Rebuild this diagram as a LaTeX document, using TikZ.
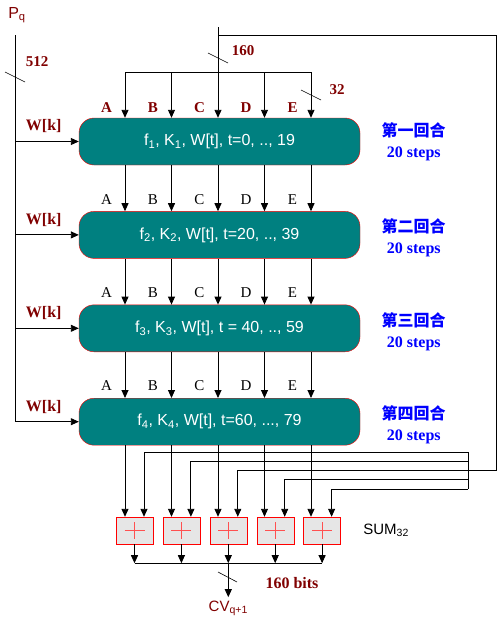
\documentclass[tikz,border=0pt]{standalone}
\usepackage{fontspec}
\setmainfont{Liberation Serif}
\setsansfont{Liberation Sans}
\newfontfamily\cjk{Noto Sans CJK SC}
\usepackage{xcolor}
\usetikzlibrary{shapes,arrows.meta,positioning}

\definecolor{darkred}{RGB}{128,0,0}
\definecolor{boxteal}{RGB}{0,128,128}
\definecolor{addgray}{RGB}{230,230,230}
\definecolor{plusred}{RGB}{255,80,80}

\tikzset{
    roundbox/.style={
        draw=red,
        fill=boxteal,
        rounded corners=15pt,
        minimum width=281pt,
        minimum height=47pt,
        inner sep=0pt,
        text=white,
        font=\sffamily\fontsize{16}{18}\selectfont
    },
    adder/.style={
        draw=red,
        fill=addgray,
        minimum width=37pt,
        minimum height=27pt,
        inner sep=0pt,
        path picture={
            \draw[plusred, line width=1.1pt]
                ([xshift=-10pt]path picture bounding box.center) -- ([xshift=10pt]path picture bounding box.center)
                ([yshift=-8.5pt]path picture bounding box.center) -- ([yshift=8.5pt]path picture bounding box.center);
        }
    },
    wire/.style={line width=0.9pt},
    arr/.style={wire, -{Triangle[length=8pt,width=7pt]}},
    cutmark/.style={line width=0.6pt},
    redlab/.style={text=darkred, font=\bfseries\fontsize{15}{17}\selectfont},
    wlab/.style={text=darkred, font=\bfseries\fontsize{16}{18}\selectfont},
    blklab/.style={font=\fontsize{15}{17}\selectfont},
    roundlab/.style={text=blue, align=center, font=\bfseries\fontsize{16}{21}\selectfont},
    sanslab/.style={font=\sffamily\fontsize{15}{17}\selectfont}
}

\begin{document}
\begin{tikzpicture}[x=1pt, y=-1pt]
    \useasboundingbox (0,0) rectangle (499,632);

    \node[roundbox] (r1) at (219.5,141.5) {f\textsubscript{1}, K\textsubscript{1}, W[t], t=0, .., 19};
    \node[roundbox, below=46pt of r1] (r2) {f\textsubscript{2}, K\textsubscript{2}, W[t], t=20, .., 39};
    \node[roundbox, below=46pt of r2] (r3) {f\textsubscript{3}, K\textsubscript{3}, W[t], t = 40, .., 59};
    \node[roundbox, below=46pt of r3] (r4) {f\textsubscript{4}, K\textsubscript{4}, W[t], t=60, ..., 79};

    \node[roundlab, right=18pt of r1] (lab1) {{\cjk 第一回合}\\20 steps};
    \node[roundlab, right=18pt of r2, yshift=-3pt] (lab2) {{\cjk 第二回合}\\20 steps};
    \node[roundlab, right=18pt of r3, yshift=-3pt] (lab3) {{\cjk 第三回合}\\20 steps};
    \node[roundlab, right=18pt of r4, yshift=-3pt] (lab4) {{\cjk 第四回合}\\20 steps};

    \foreach \i in {1,...,5}
        \coordinate (c\i) at ({125+46.5*(\i-1)},0);

    % top input
    \coordinate (ftop) at (218,27);
    \coordinate (spread) at (218,72);
    \coordinate (fright) at (496,35);
    \draw[wire] (ftop) -- (spread);
    \draw[wire] (c1 |- spread) -- (c5 |- spread);
    \foreach \l [count=\i] in {A,B,C,D,E}
        \draw[arr] (c\i |- spread) -- (c\i |- r1.north) node[redlab, pos=0.78, xshift=-18.5pt] {\l};
    \draw[cutmark] (208,53) -- (228,63);
    \node[redlab] (n160) at (243,51) {160};
    \draw[cutmark] (301,90) -- (321,100);
    \node[redlab] (n32) at (337,90) {32};

    % between rounds
    \foreach \l [count=\i] in {A,B,C,D,E} {
        \draw[arr] (c\i |- r1.south) -- (c\i |- r2.north) node[blklab, pos=0.74, xshift=-18.5pt] {\l};
        \draw[arr] (c\i |- r2.south) -- (c\i |- r3.north) node[blklab, pos=0.74, xshift=-18.5pt] {\l};
        \draw[arr] (c\i |- r3.south) -- (c\i |- r4.north) node[blklab, pos=0.74, xshift=-18.5pt] {\l};
    }

    % message words
    \node[text=darkred, font=\sffamily\fontsize{16}{18}\selectfont] (pq) at (17,15) {P\textsubscript{q}};
    \coordinate (wtop) at (15,35);
    \draw[wire] (wtop) -- (wtop |- r4.west);
    \draw[cutmark] (5,72) -- (25,82);
    \node[redlab] (n512) at (37,62) {512};
    \foreach \r in {1,...,4}
        \draw[arr] (wtop |- r\r.west) -- (r\r.west) node[wlab, pos=0.45, yshift=15pt] {W[k]};

    % adders
    \node[adder] (s1) at (134.5,530.5) {};
    \node[adder, right=9.5pt of s1] (s2) {};
    \node[adder, right=9.5pt of s2] (s3) {};
    \node[adder, right=9.5pt of s3] (s4) {};
    \node[adder, right=9.5pt of s4] (s5) {};
    \node[sanslab, right=19pt of s5] (sum) {SUM\textsubscript{32}};

    \foreach \i in {1,...,5} {
        \coordinate (b\i) at (468,{452+9.25*(\i-1)});
        \draw[arr] (c\i |- r4.south) -- (c\i |- s\i.north);
        \draw[arr] (b\i) -| ([xshift=9.5pt]s\i.north);
    }
    \draw[wire] (b1) -- (b5);
    \draw[wire] (ftop |- fright) -- (fright) |- (b3);

    % output
    \coordinate (join) at ([yshift=-19pt]s3.south);
    \foreach \i in {1,...,5}
        \draw[arr] (s\i.south) -- (s\i.south |- join);
    \draw[wire] (s1.south |- join) -- (s5.south |- join);
    \node[sanslab, text=darkred, below=34pt of join] (cv) {CV\textsubscript{q+1}};
    \draw[arr] (join) -- (cv.north);
    \draw[cutmark] (218,572) -- (237,582);
    \node[wlab] (bits) at (292,583) {160 bits};
\end{tikzpicture}
\end{document}
